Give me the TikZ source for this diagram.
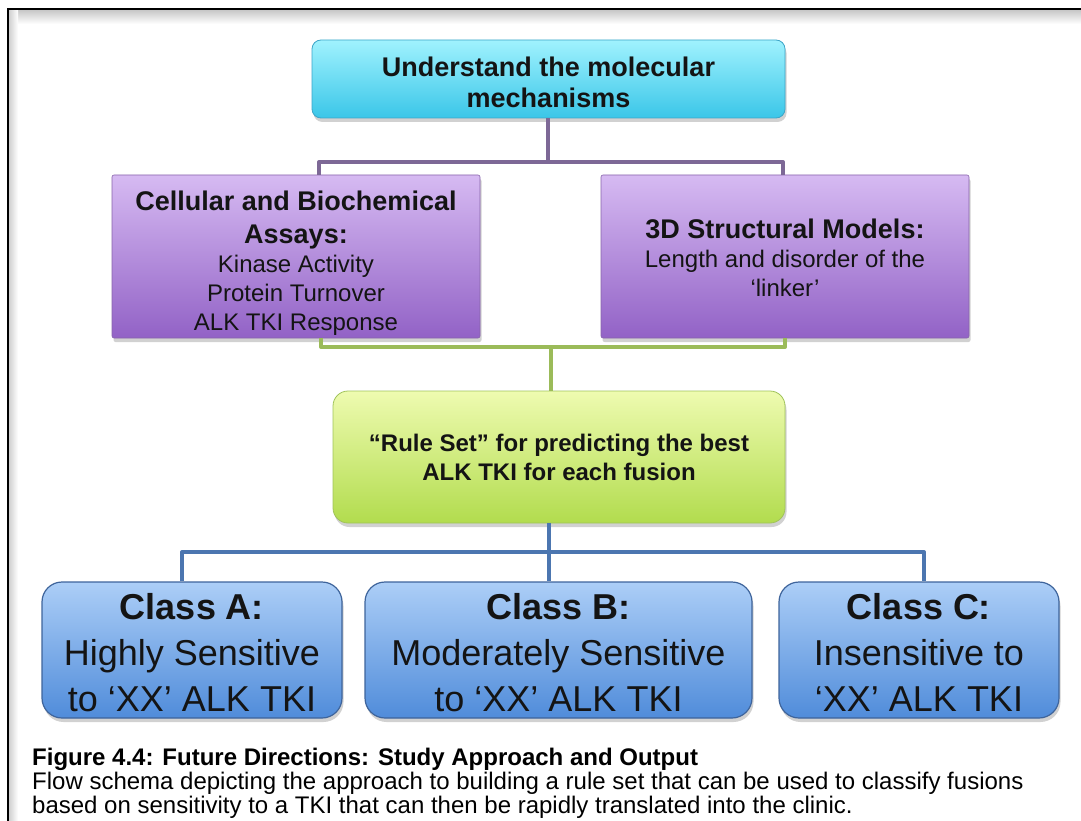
\documentclass[tikz,border=0pt]{standalone}
\usepackage{fontspec}
\setmainfont{Liberation Sans}
\usetikzlibrary{shadows}
\definecolor{cyanT}{RGB}{160,242,254}
\definecolor{cyanB}{RGB}{58,198,232}
\definecolor{cyanD}{RGB}{60,165,200}
\definecolor{purT}{RGB}{214,186,242}
\definecolor{purB}{RGB}{146,98,198}
\definecolor{purD}{RGB}{135,100,170}
\definecolor{grnT}{RGB}{238,251,176}
\definecolor{grnB}{RGB}{178,220,78}
\definecolor{grnD}{RGB}{160,195,90}
\definecolor{bluT}{RGB}{172,206,247}
\definecolor{bluB}{RGB}{80,140,218}
\definecolor{bluD}{RGB}{62,100,155}
\definecolor{purLine}{RGB}{125,104,150}
\definecolor{grnLine}{RGB}{155,187,89}
\definecolor{bluLine}{RGB}{76,118,176}
\newcommand{\natsp}{\spaceskip=\fontdimen2\font\xspaceskip=\fontdimen2\font\relax}
\begin{document}
\begin{tikzpicture}[x=1pt,y=-1pt,
  box/.style={inner sep=0pt, align=center, text=black!92,
    drop shadow={shadow xshift=1.5pt, shadow yshift=-4pt, opacity=0.3, fill=black!60}},
  topbox/.style={box, rounded corners=9pt, draw=cyanD, line width=0.8pt, top color=cyanT, bottom color=cyanB},
  purbox/.style={box, rounded corners=2pt, draw=purD, line width=0.6pt, top color=purT, bottom color=purB,
    font=\fontsize{24}{29}\selectfont, minimum width=368pt, minimum height=163pt, text width=360pt},
  grnbox/.style={box, rounded corners=15pt, draw=grnD, line width=0.8pt, top color=grnT, bottom color=grnB},
  blubox/.style={box, rounded corners=20pt, draw=bluD, line width=1.2pt, top color=bluT, bottom color=bluB,
    font=\fontsize{36}{46}\selectfont, minimum height=136pt},
  conn/.style={line width=4pt},
  captxt/.style={anchor=base west, inner sep=0pt, font=\fontsize{24}{24}\selectfont}
]
\useasboundingbox (0,0) rectangle (1081,821);
% frame with faint inner shade
\shade[top color=black!22, bottom color=white] (9,10) rectangle (1081,24);
\shade[left color=black!18, right color=white] (9,10) rectangle (18,821);
\draw[line width=2.5pt] (8,821) -- (8,9) -- (1081,9);

% boxes
\node[topbox, minimum width=473pt, minimum height=78pt, text width=463pt,
  font=\fontsize{27}{31}\selectfont\bfseries] (top) at (548.5,79)
  {\natsp\rule{0pt}{26pt}Understand the molecular\\mechanisms};

\node[purbox] (cba) at (296,256.5)
  {\natsp{\fontsize{27}{33}\selectfont\bfseries\natsp\rule{0pt}{32pt}Cellular and Biochemical\\Assays:\par}%
   Kinase Activity\\Protein Turnover\\ALK TKI Response};

\node[purbox] (sm) at (785,256.5)
  {\natsp{\fontsize{27}{33}\selectfont\bfseries\natsp\rule{0pt}{22pt}3D Structural Models:\par}%
   Length and disorder of the\\‘linker’};

\node[grnbox, minimum width=452pt, minimum height=132pt, text width=440pt,
  font=\fontsize{24}{29}\selectfont\bfseries] (rule) at (559,457)
  {\natsp “Rule Set” for predicting the best\\ALK TKI for each fusion};

\node[blubox, minimum width=300pt, text width=294pt] (ca) at (192,650)
  {\natsp\rule{0pt}{31.5pt}{\bfseries Class A:}\\Highly Sensitive\\to ‘XX’ ALK TKI};
\node[blubox, minimum width=387pt, text width=380pt] (cb) at (558.5,650)
  {\natsp\rule{0pt}{31.5pt}{\bfseries Class B:}\\Moderately Sensitive\\to ‘XX’ ALK TKI};
\node[blubox, minimum width=280pt, text width=274pt] (cc) at (919,650)
  {\natsp\rule{0pt}{31.5pt}{\bfseries Class C:}\\Insensitive to\\‘XX’ ALK TKI};

% connectors
\coordinate (pbar) at (548,162);
\coordinate (gbar) at (551,347);
\coordinate (bbar) at (549,552);
\draw[conn, purLine] (top.south -| pbar) -- (pbar);
\draw[conn, purLine, line join=round] ([xshift=23pt]cba.north) |- (pbar) -| ([xshift=-2pt]sm.north);
\draw[conn, grnLine, line join=round] ([xshift=25pt]cba.south) |- (gbar) -| (sm.south);
\draw[conn, grnLine] (gbar) -- (gbar |- rule.north);
\draw[conn, bluLine] (rule.south -| bbar) -- (bbar);
\draw[conn, bluLine, line join=round] ([xshift=-10pt]ca.north) |- (bbar) -| ([xshift=5pt]cc.north);
\draw[conn, bluLine] (bbar) -- (bbar |- cb.north);

% caption
\node[captxt, font=\fontsize{24}{24}\selectfont\bfseries] (cap1) at (32,765)
  {Figure 4.4: Future Directions: Study Approach and Output};
\node[captxt] (cap2) at (32,789)
  {Flow schema depicting the approach to building a rule set that can be used to classify fusions};
\node[captxt] (cap3) at (32,813)
  {based on sensitivity to a TKI that can then be rapidly translated into the clinic.};
\end{tikzpicture}
\end{document}
